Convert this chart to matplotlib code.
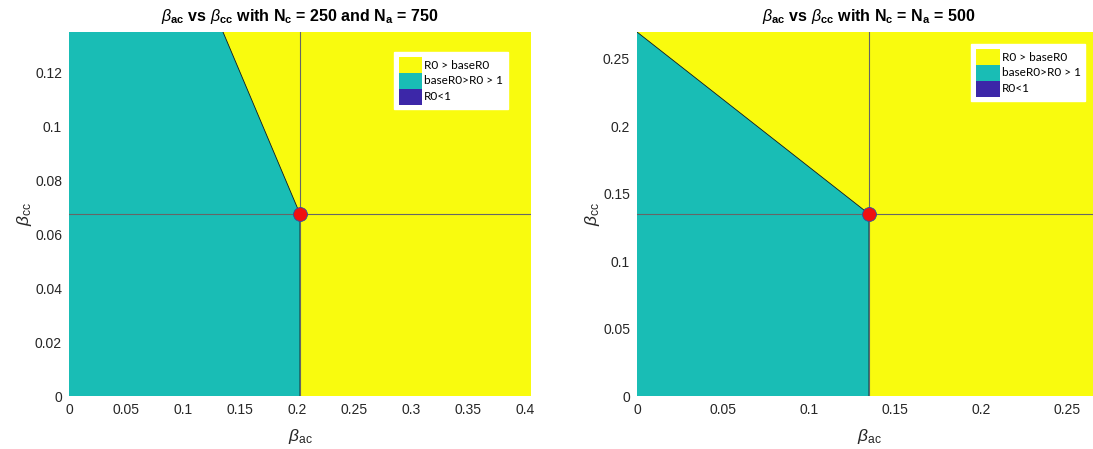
import numpy as np
import matplotlib
matplotlib.use('Agg')
import matplotlib.pyplot as plt
from matplotlib.patches import Patch
from matplotlib.ticker import FormatStrFormatter

plt.rcParams['font.family'] = ['Liberation Sans', 'DejaVu Sans']
plt.rcParams['mathtext.fontset'] = 'custom'
plt.rcParams['mathtext.rm'] = 'Liberation Sans'
plt.rcParams['mathtext.it'] = 'Liberation Sans:italic'
plt.rcParams['mathtext.bf'] = 'Liberation Sans:bold'

# base point (beta_ac, beta_cc) for each panel
base_ac = [0.2025, 0.135]
base_cc = [0.0675, 0.135]
# axis limits
xmax = [0.405, 0.27]
ymax = [0.135, 0.27]
# boundary between "baseR0>R0>1" and "R0>baseR0" (bottom -> top)
bound_x = [[0.2025, 0.2025, 0.135], [0.135, 0.135, 0.0]]
bound_y = [[0.0, 0.0675, 0.135], [0.0, 0.135, 0.27]]
xticks = [[0, 0.05, 0.1, 0.15, 0.2, 0.25, 0.3, 0.35, 0.4],
          [0, 0.05, 0.1, 0.15, 0.2, 0.25]]
yticks = [[0, 0.02, 0.04, 0.06, 0.08, 0.1, 0.12],
          [0, 0.05, 0.1, 0.15, 0.2, 0.25]]
titles = [r'$\beta_{\mathbf{ac}}$ vs $\beta_{\mathbf{cc}}$ with N$_{\mathbf{c}}$ = 250 and N$_{\mathbf{a}}$ = 750',
          r'$\beta_{\mathbf{ac}}$ vs $\beta_{\mathbf{cc}}$ with N$_{\mathbf{c}}$ = N$_{\mathbf{a}}$ = 500']
leg_labels = ['R0 > baseR0', 'baseR0>R0 > 1', 'R0<1']

yellow = '#F9FB0E'
teal = '#19BDB5'
blue = '#3C27A8'
txt = '#262626'

W, H = 1093, 449
fig = plt.figure(figsize=(W / 100, H / 100), dpi=100)
boxes = [[69, 396, 462, 364], [637, 396, 464, 364]]
leg_anchor = [(0.950, 0.945), (0.966, 0.967)]

for i in range(2):
    l, b, w, h = boxes[i]
    ax = fig.add_axes([l / W, (H - b) / H, w / W, h / H])
    ax.set_facecolor(yellow)
    px = np.r_[0, bound_x[i], 0]
    py = np.r_[0, bound_y[i], ymax[i]]
    ax.fill(px, py, color=teal, lw=0)
    ax.plot(bound_x[i], bound_y[i], color='#101820', lw=0.6)
    ax.axvline(base_ac[i], color='#666666', lw=0.8)
    ax.axhline(base_cc[i], color='#666666', lw=0.8)
    ax.plot(base_ac[i], base_cc[i], 'o', ms=10, mfc='#F01010', mec='#3050A0', mew=0.6)
    ax.set_xlim(0, xmax[i])
    ax.set_ylim(0, ymax[i])
    ax.set_xticks(xticks[i])
    ax.set_yticks(yticks[i])
    ax.xaxis.set_major_formatter(FormatStrFormatter('%g'))
    ax.yaxis.set_major_formatter(FormatStrFormatter('%g'))
    ax.tick_params(length=0, labelsize=10, labelcolor=txt, pad=5)
    for s in ax.spines.values():
        s.set_visible(False)
    ax.set_xlabel(r'$\beta_{\mathrm{ac}}$', fontsize=12.5, color=txt, labelpad=7)
    ax.set_ylabel(r'$\beta_{\mathrm{cc}}$', fontsize=12.5, color=txt, labelpad=1)
    ax.set_title(titles[i], fontsize=11.5, fontweight='bold', color='black', pad=8)
    handles = [Patch(facecolor=c, edgecolor='none') for c in [yellow, teal, blue]]
    leg = ax.legend(handles, leg_labels, loc='upper right', bbox_to_anchor=leg_anchor[i],
                    prop={'family': 'Lato', 'size': 8.5}, handlelength=2.0, handleheight=1.7,
                    labelspacing=0.0, handletextpad=0.15, borderpad=0.4,
                    fancybox=False, framealpha=1, edgecolor='white', borderaxespad=0)

fig.savefig('out.png', dpi=100)
